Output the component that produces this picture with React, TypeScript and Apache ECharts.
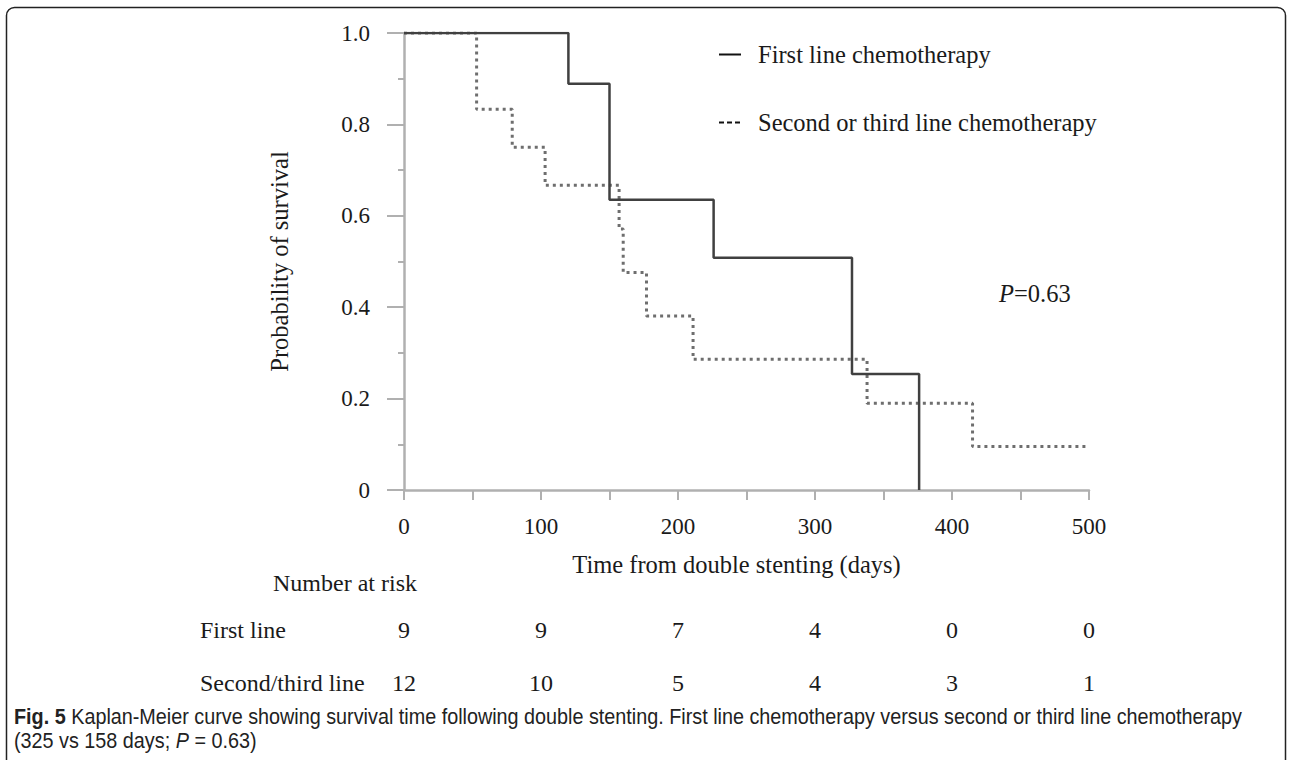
import React, { useEffect, useRef } from "react";
import * as echarts from "echarts";

// ---- data ----
const firstLineDays = [0, 120, 150, 226, 327, 376];
const firstLineSurvival = [1, 0.889, 0.635, 0.508, 0.254, 0];
const secondLineDays = [0, 53, 79, 103, 157, 160, 177, 211, 338, 415, 500];
const secondLineSurvival = [1, 0.833, 0.75, 0.667, 0.571, 0.476, 0.381, 0.286, 0.19, 0.095, 0.095];
const riskDays = [0, 100, 200, 300, 400, 500];
const riskFirstLine = [9, 9, 7, 4, 0, 0];
const riskSecondLine = [12, 10, 5, 4, 3, 1];
const seriesNames = ["First line chemotherapy", "Second or third line chemotherapy"];
const riskRowLabels = ["First line", "Second/third line"];
const riskTitle = "Number at risk";
const xAxisTitle = "Time from double stenting (days)";
const yAxisTitle = "Probability of survival";
const pValueText = "=0.63";
const captionLine1 = "Kaplan-Meier curve showing survival time following double stenting. First line chemotherapy versus second or third line chemotherapy";
const captionLine2a = "(325 vs 158 days; ";
const captionLine2b = " = 0.63)";

const SERIF = "'Liberation Serif', 'Times New Roman', serif";
const SANS = "'Liberation Sans', Arial, sans-serif";
const AXIS_GRAY = "#b0b0b0";
const TEXT = "#1a1a1a";

export default function App() {
  const ref = useRef<HTMLDivElement>(null);
  useEffect(() => {
    if (!ref.current) return;
    const chart = echarts.init(ref.current, undefined, { renderer: "svg" });
    const riskAxis = (values: number[], offset: number) => ({
      type: "value",
      gridIndex: 0,
      position: "bottom",
      min: 0,
      max: 500,
      interval: 100,
      offset,
      axisLine: { show: false },
      axisTick: { show: false },
      splitLine: { show: false },
      axisLabel: {
        margin: 8,
        fontFamily: SERIF,
        fontSize: 24,
        color: TEXT,
        formatter: (v: number) => {
          const i = riskDays.indexOf(v);
          return i >= 0 ? String(values[i]) : "";
        },
      },
    });
    const option: any = {
      animation: false,
      backgroundColor: "#ffffff",
      grid: { left: 404, right: 203, top: 33, bottom: 270, containLabel: false },
      legend: {
        orient: "vertical",
        left: 713,
        top: 37,
        itemWidth: 22,
        itemHeight: 14,
        itemGap: 43,
        selectedMode: false,
        textStyle: { fontFamily: SERIF, fontSize: 24.5, color: TEXT, padding: [0, 0, 0, 12] },
        data: [
          {
            name: seriesNames[0],
            itemStyle: { opacity: 0 },
            lineStyle: { color: "#111", width: 2, type: "solid" },
          },
          {
            name: seriesNames[1],
            itemStyle: { opacity: 0 },
            lineStyle: { color: "#111", width: 2, type: [5, 3] },
          },
        ],
      },
      xAxis: [
        {
          type: "value",
          min: 0,
          max: 500,
          interval: 100,
          name: xAxisTitle,
          nameLocation: "middle",
          nameGap: 62,
          nameTextStyle: { fontFamily: SERIF, fontSize: 24.5, color: TEXT, padding: [0, 20, 0, 0] },
          axisLine: { show: true, lineStyle: { color: AXIS_GRAY, width: 2.5 } },
          axisTick: { show: true, length: 10, lineStyle: { color: AXIS_GRAY, width: 2 } },
          minorTick: { show: true, splitNumber: 2, length: 10, lineStyle: { color: AXIS_GRAY, width: 2 } },
          splitLine: { show: false },
          axisLabel: { margin: 25, fontFamily: SERIF, fontSize: 23, color: TEXT },
        },
        riskAxis(riskFirstLine, 120),
        riskAxis(riskSecondLine, 173),
      ],
      yAxis: {
        type: "value",
        min: 0,
        max: 1,
        interval: 0.2,
        name: yAxisTitle,
        nameLocation: "middle",
        nameGap: 112,
        nameTextStyle: { fontFamily: SERIF, fontSize: 24.5, color: TEXT },
        axisLine: { show: true, lineStyle: { color: AXIS_GRAY, width: 2.5 } },
        axisTick: { show: true, length: 17, lineStyle: { color: AXIS_GRAY, width: 2 } },
        minorTick: { show: true, splitNumber: 2, length: 6, lineStyle: { color: AXIS_GRAY, width: 2 } },
        splitLine: { show: false },
        axisLabel: {
          margin: 34,
          fontFamily: SERIF,
          fontSize: 23,
          color: TEXT,
          formatter: (v: number) => (v === 0 ? "0" : v.toFixed(1)),
        },
      },
      series: [
        {
          name: seriesNames[0],
          type: "line",
          step: "end",
          symbol: "none",
          xAxisIndex: 0,
          data: firstLineDays.map((d, i) => [d, firstLineSurvival[i]]),
          lineStyle: { color: "#404040", width: 2.5, type: "solid" },
          itemStyle: { color: "#111" },
          z: 3,
        },
        {
          name: seriesNames[1],
          type: "line",
          step: "end",
          symbol: "none",
          xAxisIndex: 0,
          data: secondLineDays.map((d, i) => [d, secondLineSurvival[i]]),
          lineStyle: { color: "#6e6e6e", width: 3, type: [3, 4] },
          itemStyle: { color: "#111" },
          z: 2,
        },
      ],
      graphic: [
        {
          type: "rect",
          shape: { x: 6.5, y: 7.5, width: 1279, height: 800, r: 8 },
          style: { fill: "none", stroke: "#222", lineWidth: 1.5 },
          silent: true,
        },
        {
          type: "text",
          x: 999,
          y: 293,
          style: {
            text: "{i|P}" + pValueText,
            font: `24.5px ${SERIF}`,
            fill: TEXT,
            verticalAlign: "middle",
            align: "left",
            rich: { i: { fontStyle: "italic", fontFamily: SERIF, fontSize: 24.5, fill: TEXT } },
          },
        },
        {
          type: "text",
          x: 273,
          y: 583,
          style: { text: riskTitle, font: `24px ${SERIF}`, fill: TEXT, verticalAlign: "middle", align: "left" },
        },
        {
          type: "text",
          x: 200,
          y: 630,
          style: { text: riskRowLabels[0], font: `24px ${SERIF}`, fill: TEXT, verticalAlign: "middle", align: "left" },
        },
        {
          type: "text",
          x: 200,
          y: 683,
          style: { text: riskRowLabels[1], font: `24px ${SERIF}`, fill: TEXT, verticalAlign: "middle", align: "left" },
        },
        {
          type: "text",
          x: 14,
          y: 716,
          scaleX: 0.9,
          style: {
            text: "{b|Fig. 5} " + captionLine1,
            font: `22px ${SANS}`,
            fill: "#222",
            verticalAlign: "middle",
            align: "left",
            rich: { b: { fontWeight: "bold", fontFamily: SANS, fontSize: 22, fill: "#222" } },
          },
        },
        {
          type: "text",
          x: 14,
          y: 740,
          scaleX: 0.9,
          style: {
            text: captionLine2a + "{i|P}" + captionLine2b,
            font: `22px ${SANS}`,
            fill: "#222",
            verticalAlign: "middle",
            align: "left",
            rich: { i: { fontStyle: "italic", fontFamily: SANS, fontSize: 22, fill: "#222" } },
          },
        },
      ],
    };
    chart.setOption(option);
    return () => chart.dispose();
  }, []);
  return <div ref={ref} style={{ position: "absolute", left: 0, top: 0, width: 1292, height: 760 }} />;
}
